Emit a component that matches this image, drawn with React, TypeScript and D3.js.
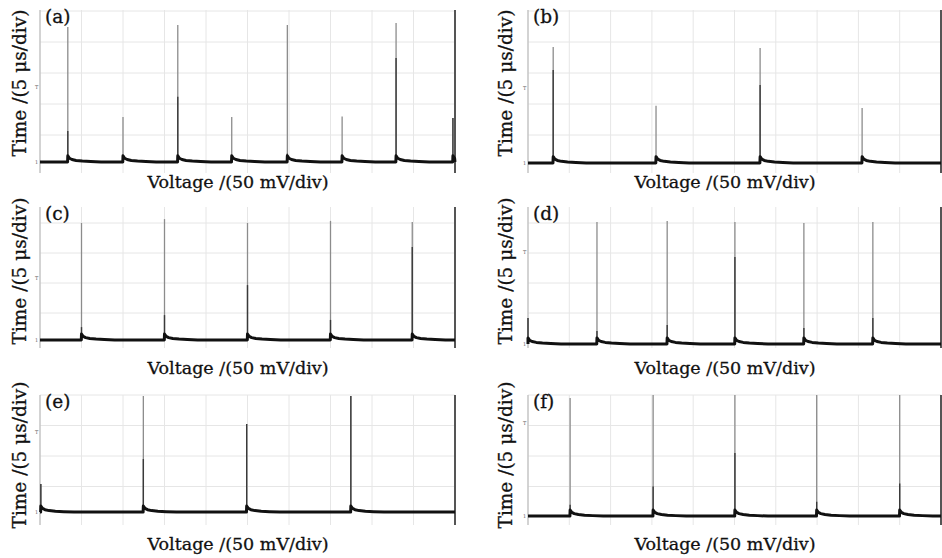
import React from "react";
import * as d3 from "d3";

const panelNames = ["(a)", "(b)", "(c)", "(d)", "(e)", "(f)"];

// pulse position (div), peak (div), darker lower part of the pulse (div)
const pulseX_a = [0.67, 2.0, 3.32, 4.62, 5.96, 7.28, 8.58, 9.95];
const pulsePeak_a = [4.48, 1.58, 4.55, 1.58, 4.55, 1.6, 4.61, 1.55];
const pulseDark_a = [1.13, 0.3, 2.23, 0.3, 0.4, 0.3, 3.48, 1.55];

const pulseX_b = [0.61, 3.1, 5.62, 8.09];
const pulsePeak_b = [3.84, 1.94, 3.81, 1.87];
const pulseDark_b = [3.1, 0.3, 2.61, 0.3];

const pulseX_c = [1.0, 3.0, 5.0, 7.0, 8.97];
const pulsePeak_c = [4.0, 4.13, 4.0, 4.07, 4.03];
const pulseDark_c = [0.53, 0.93, 1.93, 0.77, 3.2];

const pulseX_d = [0.0, 1.67, 3.37, 5.01, 6.68, 8.35];
const pulsePeak_d = [0.83, 4.03, 4.07, 4.03, 4.0, 4.03];
const pulseDark_d = [0.83, 0.4, 0.6, 2.87, 0.5, 0.83];

const pulseX_e = [0.02, 2.49, 4.98, 7.49];
const pulsePeak_e = [1.08, 3.97, 3.05, 3.97];
const pulseDark_e = [1.08, 1.9, 3.05, 3.97];

const pulseX_f = [1.02, 3.03, 5.01, 6.99, 9.0];
const pulsePeak_f = [3.9, 4.0, 4.0, 4.0, 4.0];
const pulseDark_f = [0.4, 1.0, 2.1, 0.5, 1.1];

const baseLevel = [0.13, 0.1, 0.1, -0.03, 0.16, 0.03];
const trigLevel = [2.55, 2.52, 2.17, 3.03, 2.79, 3.08];

// decay after each pulse: offset (div) and height above base (div)
const tailDx = [0, 0.04, 0.1, 0.2, 0.35, 0.55, 0.8];
const tailDy = [0.2, 0.12, 0.08, 0.05, 0.03, 0.015, 0];

const xDivs = [1, 2, 3, 4, 5, 6, 7, 8, 9];
const yDivs = [1, 2, 3, 4, 5];

const xLabel = "Voltage /(50 mV/div)";
const yLabel = "Time /(5 μs/div)";

const pulses = [
  [pulseX_a, pulsePeak_a, pulseDark_a],
  [pulseX_b, pulsePeak_b, pulseDark_b],
  [pulseX_c, pulsePeak_c, pulseDark_c],
  [pulseX_d, pulsePeak_d, pulseDark_d],
  [pulseX_e, pulsePeak_e, pulseDark_e],
  [pulseX_f, pulsePeak_f, pulseDark_f],
];

const cols = [
  { left: 40, right: 455, labelX: 238, yLabelX: 26 },
  { left: 528, right: 941, labelX: 725, yLabelX: 512 },
];
const rows = [
  { top: 10, bottom: 173, zero: 166, div: 31, xLabelY: 188, yLabelY: 83 },
  { top: 207, bottom: 348, zero: 343, div: 30, xLabelY: 374, yLabelY: 271 },
  { top: 395, bottom: 525, zero: 517, div: 30.5, xLabelY: 550, yLabelY: 455 },
];

const FONT = "'DejaVu Serif', serif";

function Panel({ idx }: { idx: number }) {
  const col = cols[idx % 2];
  const row = rows[Math.floor(idx / 2)];
  const [px, pk, dk] = pulses[idx];
  const base = baseLevel[idx];

  const x = d3.scaleLinear().domain([0, 10]).range([col.left, col.right]);
  const y = d3
    .scaleLinear()
    .domain([(row.zero - row.bottom) / row.div, (row.zero - row.top) / row.div])
    .range([row.bottom, row.top]);
  const yMax = y.domain()[1];

  // trace: flat base, each pulse followed by a short decay
  const pts: [number, number][] = [[0, base]];
  px.forEach((p) => {
    if (p > 0.01) pts.push([p - 0.005, base]);
    tailDx.forEach((dx, i) => {
      if (p + dx <= 10) pts.push([p + dx, base + tailDy[i]]);
    });
  });
  pts.push([10, base]);
  pts.sort((a, b) => a[0] - b[0]);

  const line = d3
    .line<[number, number]>()
    .x((d) => x(d[0]))
    .y((d) => y(d[1]));

  const txt = { fontFamily: FONT, fill: "#111", stroke: "#111", strokeWidth: 0.3 };

  return (
    <g>
      {xDivs.map((v) => (
        <line key={"gx" + v} x1={x(v)} x2={x(v)} y1={row.top} y2={row.bottom}
          stroke="#e6e6e6" strokeWidth={1} />
      ))}
      {yDivs.filter((v) => v <= yMax).map((v) => (
        <line key={"gy" + v} x1={col.left} x2={col.right} y1={y(v)} y2={y(v)}
          stroke="#e6e6e6" strokeWidth={1} />
      ))}
      <line x1={col.left} x2={col.left} y1={row.top} y2={row.bottom} stroke="#c4c4c4" strokeWidth={1.5} />
      <line x1={col.right} x2={col.right} y1={row.top} y2={row.bottom} stroke="#555" strokeWidth={2} />
      <text x={col.left - 5} y={y(trigLevel[idx]) + 2} fontSize={5} fill="#666" fontFamily={FONT}>T</text>
      <text x={col.left - 5} y={y(base) + 2} fontSize={5} fill="#666" fontFamily={FONT}>1</text>

      {px.map((p, i) => (
        <g key={"p" + i}>
          <line x1={x(p)} x2={x(p)} y1={y(base)} y2={y(Math.min(pk[i], yMax))}
            stroke="#8c8c8c" strokeWidth={1.3} />
          <line x1={x(p)} x2={x(p)} y1={y(base)} y2={y(Math.min(dk[i], yMax))}
            stroke="#3a3a3a" strokeWidth={1.4} />
        </g>
      ))}
      <path d={line(pts) || ""} fill="none" stroke="#111" strokeWidth={3} strokeLinejoin="round" />

      <text x={col.left + 5} y={row.top + 13} fontSize={18.5} {...txt}>
        {panelNames[idx]}
      </text>
      <text x={col.labelX} y={row.xLabelY} fontSize={17.5} textAnchor="middle" {...txt}>
        {xLabel}
      </text>
      <text transform={`translate(${col.yLabelX},${row.yLabelY}) rotate(-90)`} fontSize={18.5}
        textAnchor="middle" {...txt}>
        {yLabel}
      </text>
    </g>
  );
}

export default function App() {
  return (
    <svg width={942} height={558} style={{ position: "absolute", left: 0, top: 0, background: "#fff" }}>
      {panelNames.map((_, i) => (
        <Panel key={i} idx={i} />
      ))}
    </svg>
  );
}
